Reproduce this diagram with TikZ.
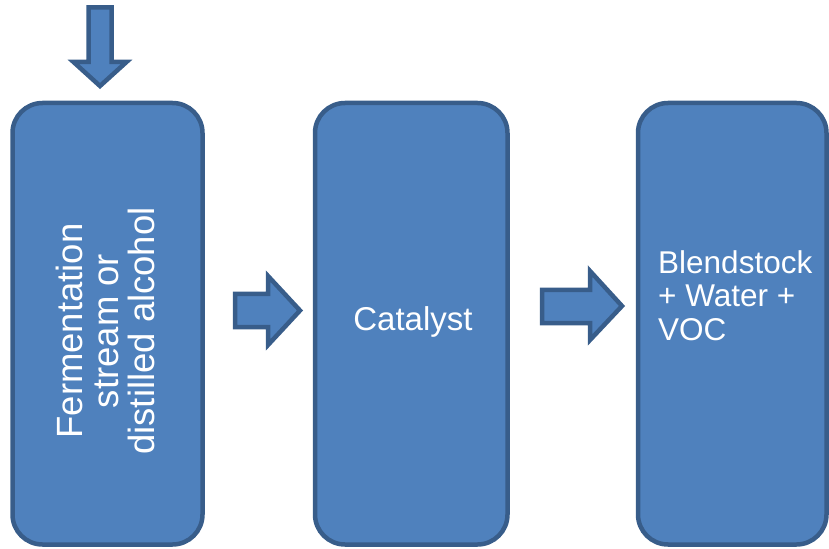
\documentclass[tikz,border=0pt]{standalone}
\usepackage{fontspec}
\setmainfont{Liberation Sans}
\definecolor{boxfill}{HTML}{4F81BD}
\definecolor{boxline}{HTML}{385D8A}
\tikzset{
  stage/.style={draw=boxline, fill=boxfill, line width=4.5bp, rounded corners=30bp},
  flowarrow/.style={draw=boxline, fill=boxfill, line width=4.5bp, line join=miter},
  label/.style={text=white, inner sep=0pt}
}
\begin{document}
\begin{tikzpicture}[x=1bp, y=-1bp]
  \useasboundingbox (0,0) rectangle (829,549);

  % process stages
  \path[stage] (12.5,103) rectangle (202.5,544.5);
  \path[stage] (315,103) rectangle (507.5,544.5);
  \path[stage] (638,103) rectangle (826.5,544.5);

  % feed arrow into the first stage
  \path[flowarrow] (88.5,7.5) -- (111.5,7.5) -- (111.5,62) -- (126.5,62) -- (100,86)
     -- (73.5,62) -- (88.5,62) -- cycle;

  % arrows between stages
  \path[flowarrow] (235,294) -- (268,294) -- (268,276) -- (300,310.5) -- (268,345)
     -- (268,327) -- (235,327) -- cycle;
  \path[flowarrow] (542,290) -- (590,290) -- (590,271) -- (622,306) -- (590,340)
     -- (590,323) -- (542,323) -- cycle;

  % stage labels
  \node[label, rotate=90, align=center, font=\fontsize{36.5bp}{36bp}\selectfont]
    (feedtext) at (105,331) {Fermentation\\stream or\\distilled alcohol};
  \node[label, anchor=base, font=\fontsize{33bp}{36bp}\selectfont]
    (cattext) at (413,330.5) {Catalyst};
  \node[label, anchor=north west, align=left, font=\fontsize{31.5bp}{33.5bp}\selectfont]
    (prodtext) at (658,250) {Blendstock\\+ Water +\\VOC};
\end{tikzpicture}
\end{document}
